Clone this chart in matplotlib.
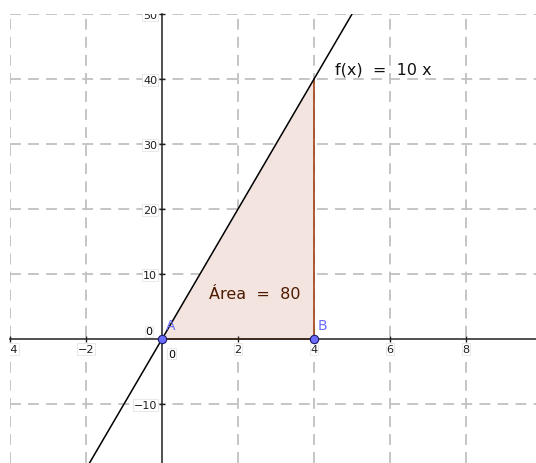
import numpy as np
import matplotlib.pyplot as plt

# function f(x) = 10 x and integral region
slope = 10
x_line = [-4.3, 5.3]
region_x = [0, 4, 4]
region_y = [0, 0, 40]
points = {"A": (0, 0), "B": (4, 0)}
area_value = 80

x_ticks = [-4, -2, 2, 4, 6, 8]
y_ticks = [-10, 10, 20, 30, 40, 50]

W, H = 536, 464
fig = plt.figure(figsize=(W / 100, H / 100), dpi=100)
ax = fig.add_axes([10 / W, 0, (W - 10) / W, (H - 15) / H])
ax.set_xlim(-4, 9.84)
ax.set_ylim(-19.08, 50)

# dashed grid
for gx in x_ticks:
    ax.axvline(gx, color="#c0c0c0", linestyle=(0, (6, 4)), lw=1.3, zorder=0)
for gy in y_ticks:
    ax.axhline(gy, color="#c0c0c0", linestyle=(0, (6, 4)), lw=1.3, zorder=0)

for s in ["top", "right"]:
    ax.spines[s].set_visible(False)
ax.spines["left"].set_position(("data", 0))
ax.spines["bottom"].set_position(("data", 0))
for s in ["left", "bottom"]:
    ax.spines[s].set_color("#202020")
    ax.spines[s].set_linewidth(1.1)

ax.set_xticks(x_ticks)
ax.set_yticks(y_ticks)
ax.set_xticklabels([str(t).replace("-", "\u2212") for t in x_ticks])
ax.set_yticklabels([str(t).replace("-", "\u2212") for t in y_ticks])
ax.tick_params(direction="inout", length=5, width=1, labelsize=8,
               colors="#202020", pad=1)
for lbl in ax.get_xticklabels() + ax.get_yticklabels():
    lbl.set_bbox(dict(facecolor="white", edgecolor="#e0e0e0", lw=0.5, pad=0.5))
    lbl.set_clip_on(True)
    lbl.set_clip_box(ax.bbox)
ax.text(0.25, -1.5, "0", fontsize=8, ha="center", va="top",
        bbox=dict(facecolor="white", edgecolor="#e0e0e0", lw=0.5, pad=0.5))
ax.text(-0.25, 1.2, "0", fontsize=8, ha="right", va="center",
        bbox=dict(facecolor="white", edgecolor="#e0e0e0", lw=0.5, pad=0.5))

# shaded area
ax.fill(region_x, region_y, facecolor="#f3e4df", edgecolor="none", zorder=1)
ax.plot([0, 4, 4], [0, 0, 40], color="#993300", lw=1.1, zorder=2)

# line
xs = np.array(x_line)
ax.plot(xs, slope * xs, color="black", lw=1.1, zorder=3)

# points
for name, (px, py) in points.items():
    ax.plot(px, py, "o", ms=6, mfc="#6c6cff", mec="#1a1a66", mew=0.8, zorder=5)
    ax.text(px + 0.1, py + 1.0, name, color="#6c6cff", fontsize=10,
            ha="left", va="bottom", zorder=5)

ax.text(4.55, 41.5, "f(x)  =  10 x", fontsize=11.5, color="#111111",
        ha="left", va="center")
ax.text(2.45, 7.0, f"Área  =  {area_value}", fontsize=11.5, color="#4d1a00",
        ha="center", va="center")

fig.savefig("out.png", dpi=100)
